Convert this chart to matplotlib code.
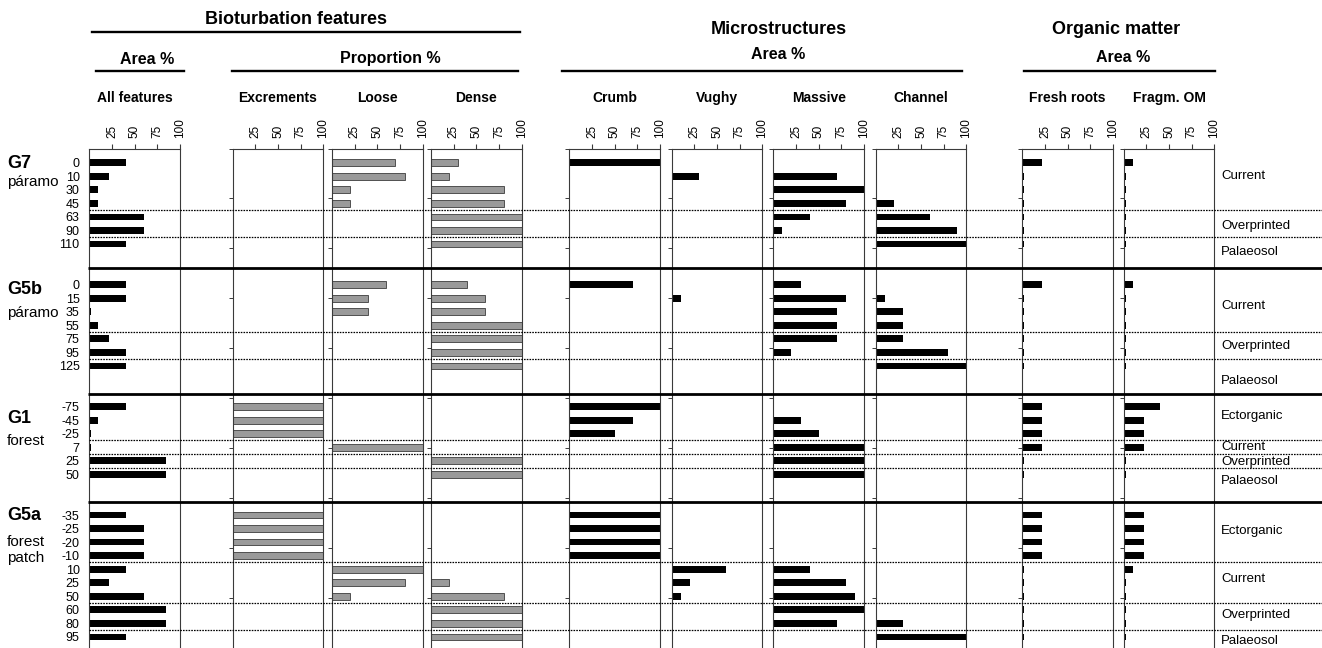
import numpy as np
import matplotlib
matplotlib.use('Agg')
import matplotlib.pyplot as plt
from matplotlib.lines import Line2D

plt.rcParams['font.family'] = ['Liberation Sans', 'DejaVu Sans']

# profiles, sub-labels and sampled depths (cm)
groups = ['G7', 'G5b', 'G1', 'G5a']
group_sub = [['páramo'], ['páramo'], ['forest'], ['forest', 'patch']]
depths = [
    ['0', '10', '30', '45', '63', '90', '110'],
    ['0', '15', '35', '55', '75', '95', '125'],
    ['-75', '-45', '-25', '7', '25', '50'],
    ['-35', '-25', '-20', '-10', '10', '25', '50', '60', '80', '95'],
]

# values per column, rows ordered G7, G5b, G1, G5a
all_features = [40, 22, 10, 10, 60, 60, 40,
                40, 40, 2, 10, 22, 40, 40,
                40, 10, 2, 2, 85, 85,
                40, 60, 60, 60, 40, 22, 60, 85, 85, 40]
excrements = [0, 0, 0, 0, 0, 0, 0,
              0, 0, 0, 0, 0, 0, 0,
              100, 100, 100, 0, 0, 0,
              100, 100, 100, 100, 0, 0, 0, 0, 0, 0]
loose = [70, 80, 20, 20, 0, 0, 0,
         60, 40, 40, 0, 0, 0, 0,
         0, 0, 0, 100, 0, 0,
         0, 0, 0, 0, 100, 80, 20, 0, 0, 0]
dense = [30, 20, 80, 80, 100, 100, 100,
         40, 60, 60, 100, 100, 100, 100,
         0, 0, 0, 0, 100, 100,
         0, 0, 0, 0, 0, 20, 80, 100, 100, 100]
crumb = [100, 0, 0, 0, 0, 0, 0,
         70, 0, 0, 0, 0, 0, 0,
         100, 70, 50, 0, 0, 0,
         100, 100, 100, 100, 0, 0, 0, 0, 0, 0]
vughy = [0, 30, 0, 0, 0, 0, 0,
         0, 10, 0, 0, 0, 0, 0,
         0, 0, 0, 0, 0, 0,
         0, 0, 0, 0, 60, 20, 10, 0, 0, 0]
massive = [0, 70, 100, 80, 40, 10, 0,
           30, 80, 70, 70, 70, 20, 0,
           0, 30, 50, 100, 100, 100,
           0, 0, 0, 0, 40, 80, 90, 100, 70, 0]
channel = [0, 0, 0, 20, 60, 90, 100,
           0, 10, 30, 30, 30, 80, 100,
           0, 0, 0, 0, 0, 0,
           0, 0, 0, 0, 0, 0, 0, 0, 30, 100]
fresh_roots = [22, 2, 2, 2, 2, 2, 2,
               22, 2, 2, 2, 2, 2, 2,
               22, 22, 22, 22, 2, 2,
               22, 22, 22, 22, 2, 2, 2, 2, 2, 2]
fragm_om = [10, 2, 2, 2, 2, 2, 2,
            10, 2, 2, 2, 2, 2, 2,
            40, 22, 22, 22, 2, 2,
            22, 22, 22, 22, 10, 2, 2, 2, 2, 2]

columns = ['All features', 'Excrements', 'Loose', 'Dense', 'Crumb',
           'Vughy', 'Massive', 'Channel', 'Fresh roots', 'Fragm. OM']
values = [all_features, excrements, loose, dense, crumb,
          vughy, massive, channel, fresh_roots, fragm_om]
gray_cols = ['Excrements', 'Loose', 'Dense']

# horizon names on the right
zone_labels = ['Current', 'Overprinted', 'Palaeosol',
               'Current', 'Overprinted', 'Palaeosol',
               'Ectorganic', 'Current', 'Overprinted', 'Palaeosol',
               'Ectorganic', 'Current', 'Overprinted', 'Palaeosol']

# ---- layout (row slots, pixel positions) ----
W, H = 1322, 648
group_start = [0, 9, 18, 26]
zone_pos = [1.0, 4.7, 6.6, 10.55, 13.55, 16.1, 18.7, 21.0, 22.1, 23.5,
            27.2, 30.75, 33.4, 35.3]
separators = [7.75, 17.09, 25.02]
dotted = [3.5, 5.5, 12.5, 14.5, 20.5, 21.5, 22.5, 29.5, 32.5, 34.5]
group_lab_pos = [[0.05, 1.4], [9.35, 11.07], [18.86, 20.54], [26.07, 27.97, 29.17]]

Y0, DY = 162.7, 13.55          # pixel y of first row, pixels per row
AX_TOP, AX_BOT = 148.5, 648.0
s_top = (AX_TOP - Y0) / DY
s_bot = (AX_BOT - Y0) / DY
panel_left = [89.3, 232.7, 332.0, 431.0, 569.3, 671.7, 773.3, 875.7, 1022.3, 1123.7]
PANEL_W = 90.7


def fx(x):
    return x / W


def fy(y):
    return 1 - y / H


rows = np.concatenate([g0 + np.arange(len(d)) for g0, d in zip(group_start, depths)])
depth_labels = [d for grp in depths for d in grp]

fig = plt.figure(figsize=(W / 100, H / 100), dpi=100)
ax_h = (AX_BOT - AX_TOP) / H
spine_col = '#3a3a3a'

for i, (name, vals) in enumerate(zip(columns, values)):
    ax = fig.add_axes([fx(panel_left[i]), 0, PANEL_W / W, ax_h])
    vals = np.asarray(vals, dtype=float)
    keep = vals > 0
    if name in gray_cols:
        ax.barh(rows[keep], vals[keep], height=0.5, color='#9a9a9a',
                edgecolor='#505050', linewidth=0.7)
    else:
        ax.barh(rows[keep], vals[keep], height=0.5, color='black', linewidth=0)
    ax.set_xlim(0, 100)
    ax.set_ylim(s_bot, s_top)
    ax.spines['bottom'].set_visible(False)
    for sp in ['left', 'right', 'top']:
        ax.spines[sp].set_color(spine_col)
        ax.spines[sp].set_linewidth(0.8)
    ax.xaxis.tick_top()
    ax.set_xticks([25, 50, 75, 100])
    ax.set_xticklabels(['25', '50', '75', '100'], rotation=90, fontsize=8.5)
    ax.tick_params(axis='x', length=3.6, width=0.8, color=spine_col, pad=4)
    if i == 0:
        ax.set_yticks(rows)
        ax.set_yticklabels(depth_labels, fontsize=9)
        ax.tick_params(axis='y', length=0, pad=7)
    else:
        ax.set_yticks(s_top + np.arange(10) * (s_bot - s_top) / 10)
        ax.set_yticklabels([])
        ax.tick_params(axis='y', length=3.2, width=0.7, color=spine_col)
    fig.text(fx(panel_left[i] + PANEL_W / 2), fy(98), name, ha='center',
             va='center', fontsize=10, fontweight='bold')

# overlay for full-width lines and side labels
ov = fig.add_axes([0, 0, 1, ax_h], zorder=5)
ov.set_xlim(0, W)
ov.set_ylim(s_bot, s_top)
ov.axis('off')
ov.patch.set_alpha(0)
ov.hlines(separators, 88, W, color='black', linewidth=2.0)
ov.hlines(dotted, 89, W, color='black', linewidth=0.9, linestyles=(0, (1.3, 0.9)))
for lab, y in zip(zone_labels, zone_pos):
    ov.text(1221, y, lab, ha='left', va='center', fontsize=9.5)
for g, subs, ys in zip(groups, group_sub, group_lab_pos):
    ov.text(7, ys[0], g, ha='left', va='center', fontsize=13, fontweight='bold')
    for s, y in zip(subs, ys[1:]):
        ov.text(7, y, s, ha='left', va='center', fontsize=11)

# group headers with rules
headers = [('Bioturbation features', 296, 19, 13), ('Area %', 147, 59, 11.5),
           ('Proportion %', 390, 59, 11.5), ('Microstructures', 779, 29.3, 13),
           ('Area %', 778, 54.3, 11.5), ('Organic matter', 1116.5, 30, 13),
           ('Area %', 1123, 57.3, 11.5)]
for txt, x, y, fs in headers:
    fig.text(fx(x), fy(y), txt, ha='center', va='center', fontsize=fs, fontweight='bold')

rules = [(92, 520, 32.3), (96, 184, 70.7), (232, 518, 70.7),
         (562, 962, 70.7), (1024, 1215, 70.7)]
for x0, x1, y in rules:
    fig.add_artist(Line2D([fx(x0), fx(x1)], [fy(y), fy(y)], color='black', linewidth=1.7))

fig.savefig('out.png', dpi=100)
